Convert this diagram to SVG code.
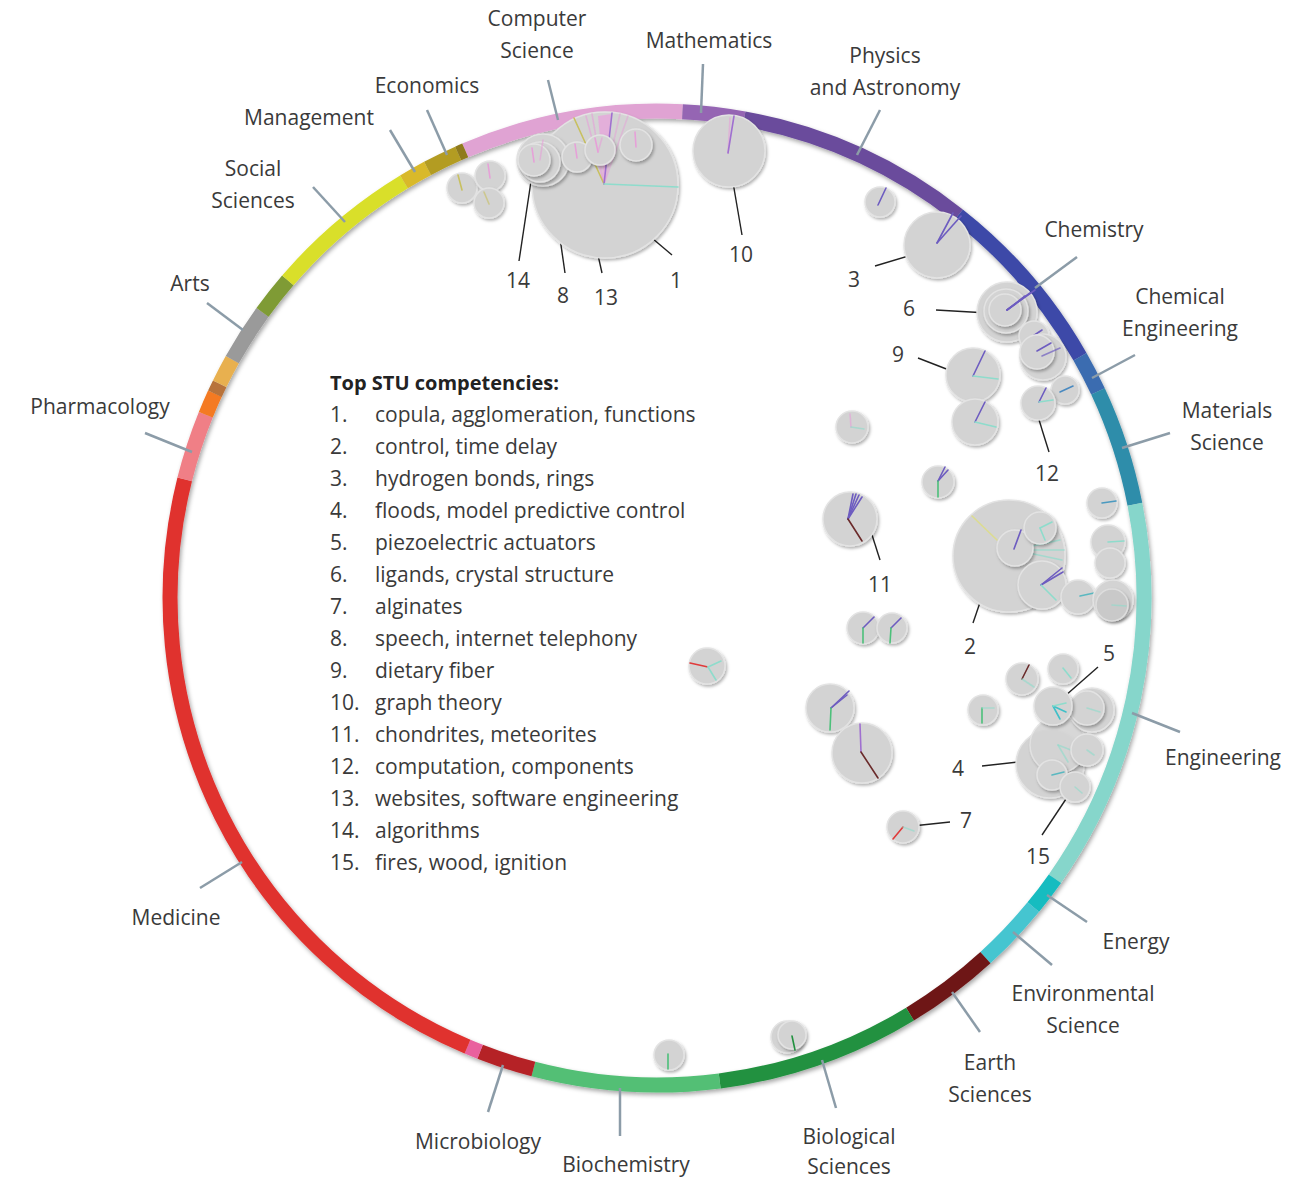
<svg xmlns="http://www.w3.org/2000/svg" width="1316" height="1181" viewBox="0 0 1316 1181">
<defs>
<filter id="rsh" x="-10%" y="-10%" width="120%" height="120%"><feDropShadow dx="1.5" dy="2.5" stdDeviation="2" flood-color="#000" flood-opacity="0.35"/></filter>
<filter id="bsh" x="-30%" y="-30%" width="160%" height="160%"><feDropShadow dx="1.5" dy="2" stdDeviation="1.5" flood-color="#000" flood-opacity="0.3"/></filter>
<style>
.seg{fill:none;stroke-width:15}
.lbl{font-family:"Open Sans","Liberation Sans",sans-serif;font-size:21px;fill:#3a3a3a;text-anchor:middle}
.num{font-family:"Open Sans","Liberation Sans",sans-serif;font-size:21px;fill:#3a3a3a;text-anchor:middle}
.leg{font-family:"Open Sans","Liberation Sans",sans-serif;font-size:21px;fill:#3a3a3a}
.legh{font-family:"Open Sans","Liberation Sans",sans-serif;font-size:20px;font-weight:bold;fill:#222}
.tick{stroke:#8c9ca8;stroke-width:2.5;fill:none}
.lead{stroke:#222;stroke-width:1.4;fill:none}
.b{fill:#d3d3d3;stroke:#e3e3e3;stroke-width:1.5;filter:url(#bsh)}
.bd{fill:#c9c9c9;stroke:#dedede;stroke-width:1.5;filter:url(#bsh)}
.sp{fill:none;stroke-width:1.6;stroke-linecap:round}
.v{stroke:#6d5cc0}
.vl{stroke:#a070d0}
.pk{stroke:#e6a0d8}
.tl{stroke:#8edccc}
.gr{stroke:#4cc07a}
.yl{stroke:#c8c060}
.rd{stroke:#e03a3a}
.br{stroke:#6a2a2a}
</style>
</defs>

<g id="ring" filter="url(#rsh)">
<path id="seg-cs" class="seg" stroke="#e0a3d3" d="M465.2 150.4 A487 487 0 0 1 682.5 111.7"/>
<path id="seg-math" class="seg" stroke="#9565b3" d="M682.5 111.7 A487 487 0 0 1 744.1 118.8"/>
<path id="seg-phys" class="seg" stroke="#6a4c9c" d="M744.1 118.8 A487 487 0 0 1 958.2 215.3"/>
<path id="seg-chem" class="seg" stroke="#3d4aa8" d="M958.2 215.3 A487 487 0 0 1 1080.0 356.7"/>
<path id="seg-cheng" class="seg" stroke="#3b6cb0" d="M1080.0 356.7 A487 487 0 0 1 1098.0 391.4"/>
<path id="seg-mat" class="seg" stroke="#2e8daa" d="M1098.0 391.4 A487 487 0 0 1 1134.9 504.3"/>
<path id="seg-eng" class="seg" stroke="#86d6cb" d="M1134.9 504.3 A487 487 0 0 1 1054.9 878.7"/>
<path id="seg-energy" class="seg" stroke="#16bcc0" d="M1054.9 878.7 A487 487 0 0 1 1033.3 907.1"/>
<path id="seg-env" class="seg" stroke="#45c5d0" d="M1033.3 907.1 A487 487 0 0 1 985.4 957.6"/>
<path id="seg-earth" class="seg" stroke="#6e1818" d="M985.4 957.6 A487 487 0 0 1 910.0 1014.1"/>
<path id="seg-bio" class="seg" stroke="#21913f" d="M910.0 1014.1 A487 487 0 0 1 719.7 1081.0"/>
<path id="seg-biochem" class="seg" stroke="#52bf75" d="M719.7 1081.0 A487 487 0 0 1 533.4 1069.1"/>
<path id="seg-micro" class="seg" stroke="#b52228" d="M533.4 1069.1 A487 487 0 0 1 480.1 1051.7"/>
<path id="seg-pink" class="seg" stroke="#e9609e" d="M480.1 1051.7 A487 487 0 0 1 467.5 1046.6"/>
<path id="seg-med" class="seg" stroke="#e0312f" d="M467.5 1046.6 A487 487 0 0 1 184.7 479.4"/>
<path id="seg-pharm" class="seg" stroke="#f07f86" d="M184.7 479.4 A487 487 0 0 1 205.8 414.8"/>
<path id="seg-or" class="seg" stroke="#f47a20" d="M205.8 414.8 A487 487 0 0 1 214.9 393.7"/>
<path id="seg-brn" class="seg" stroke="#b8733a" d="M214.9 393.7 A487 487 0 0 1 219.7 383.8"/>
<path id="seg-lor" class="seg" stroke="#e8b050" d="M219.7 383.8 A487 487 0 0 1 232.3 359.7"/>
<path id="seg-arts" class="seg" stroke="#9a9a9a" d="M232.3 359.7 A487 487 0 0 1 262.5 312.4"/>
<path id="seg-olive" class="seg" stroke="#7f9b35" d="M262.5 312.4 A487 487 0 0 1 287.8 280.4"/>
<path id="seg-soc" class="seg" stroke="#d9df2c" d="M287.8 280.4 A487 487 0 0 1 404.0 181.9"/>
<path id="seg-mgmt" class="seg" stroke="#d9b92a" d="M404.0 181.9 A487 487 0 0 1 427.6 168.4"/>
<path id="seg-econ" class="seg" stroke="#b39c22" d="M427.6 168.4 A487 487 0 0 1 458.2 153.5"/>
<path id="seg-econ2" class="seg" stroke="#8f7a1a" d="M458.2 153.5 A487 487 0 0 1 465.2 150.4"/>
</g>

<g id="connectors">
<line class="tick" x1="548" y1="80" x2="558" y2="120"/>
<line class="tick" x1="703" y1="64" x2="701" y2="113"/>
<line class="tick" x1="880" y1="110" x2="857" y2="155"/>
<line class="tick" x1="1077" y1="257" x2="1035" y2="288"/>
<line class="tick" x1="1135" y1="355" x2="1092" y2="378"/>
<line class="tick" x1="1170" y1="433" x2="1122" y2="448"/>
<line class="tick" x1="1180" y1="732" x2="1132" y2="713"/>
<line class="tick" x1="1087" y1="922" x2="1047" y2="895"/>
<line class="tick" x1="1052" y1="965" x2="1013" y2="932"/>
<line class="tick" x1="980" y1="1032" x2="952" y2="992"/>
<line class="tick" x1="836" y1="1108" x2="822" y2="1060"/>
<line class="tick" x1="620" y1="1136" x2="620" y2="1088"/>
<line class="tick" x1="488" y1="1112" x2="503" y2="1065"/>
<line class="tick" x1="200" y1="888" x2="242" y2="862"/>
<line class="tick" x1="145" y1="433" x2="192" y2="452"/>
<line class="tick" x1="207" y1="303" x2="243" y2="330"/>
<line class="tick" x1="313" y1="187" x2="345" y2="222"/>
<line class="tick" x1="390" y1="130" x2="415" y2="172"/>
<line class="tick" x1="427" y1="110" x2="447" y2="155"/>

<line class="lead" x1="607" y1="200" x2="672" y2="255"/>
<line class="lead" x1="730" y1="165" x2="742" y2="235"/>
<line class="lead" x1="533" y1="168" x2="519" y2="261"/>
<line class="lead" x1="546" y1="140" x2="565" y2="273"/>
<line class="lead" x1="577" y1="161" x2="602" y2="273"/>
<line class="lead" x1="875" y1="266" x2="925" y2="251"/>
<line class="lead" x1="936" y1="310" x2="988" y2="313"/>
<line class="lead" x1="918" y1="358" x2="967" y2="377"/>
<line class="lead" x1="1035" y1="407" x2="1049" y2="452"/>
<line class="lead" x1="866" y1="516" x2="880" y2="560"/>
<line class="lead" x1="988" y1="579" x2="973" y2="623"/>
<line class="lead" x1="1057" y1="703" x2="1098" y2="667"/>
<line class="lead" x1="982" y1="766" x2="1027" y2="761"/>
<line class="lead" x1="903" y1="827" x2="950" y2="822"/>
<line class="lead" x1="1042" y1="835" x2="1072" y2="790"/>
</g>

<g id="bubbles">
<g id="b-econ">
<circle class="b" cx="462" cy="188" r="15"/><line class="sp yl" x1="462" y1="190" x2="458" y2="175"/>
<circle class="b" cx="490" cy="176" r="15"/><line class="sp pk" x1="490" y1="178" x2="488" y2="164"/>
<circle class="b" cx="489" cy="203" r="15"/><line class="sp yl" x1="489" y1="204" x2="484" y2="192" opacity="0.6"/>
</g>
<g id="b1">
<circle class="b" cx="605" cy="185" r="73"/>
<polygon points="604,184 598,116 611,114" fill="#e7a6dc" opacity="0.8"/>
<line class="sp pk" x1="604" y1="184" x2="586" y2="116" opacity="0.6"/>
<line class="sp pk" x1="604" y1="184" x2="592" y2="114" opacity="0.6"/>
<line class="sp pk" x1="604" y1="184" x2="620" y2="114" opacity="0.5"/>
<line class="sp pk" x1="604" y1="184" x2="628" y2="116" opacity="0.5"/>
<line class="sp yl" x1="604" y1="184" x2="574" y2="118"/>
<line class="sp vl" x1="604" y1="184" x2="612" y2="113"/>
<line class="sp tl" x1="604" y1="184" x2="678" y2="187"/>
</g>
<g id="b14-8">
<circle class="b" cx="543" cy="160" r="26"/>
<circle class="b" cx="540" cy="162" r="20"/>
<circle class="b" cx="534" cy="160" r="16"/>
<line class="sp pk" x1="534" y1="162" x2="532" y2="148"/>
<line class="sp pk" x1="540" y1="160" x2="543" y2="140" opacity="0.6"/>
</g>
<g id="b13">
<circle class="b" cx="577" cy="157" r="15"/><line class="sp pk" x1="577" y1="158" x2="575" y2="144"/>
<circle class="b" cx="600" cy="150" r="15"/><line class="sp pk" x1="598" y1="152" x2="595" y2="138"/><line class="sp pk" x1="598" y1="152" x2="602" y2="138" opacity="0.6"/>
<circle class="b" cx="636" cy="145" r="16"/><line class="sp pk" x1="636" y1="147" x2="635" y2="132"/>
</g>
<g id="b10">
<circle class="b" cx="729" cy="151" r="36"/>
<line class="sp pk" x1="728" y1="153" x2="730" y2="118" opacity="0.6"/>
<line class="sp vl" x1="728" y1="153" x2="734" y2="116"/>
</g>
<g id="b-phys">
<circle class="b" cx="880" cy="202" r="15"/><line class="sp v" x1="878" y1="205" x2="886" y2="188"/>
</g>
<g id="b3">
<circle class="b" cx="937" cy="245" r="33"/>
<line class="sp v" x1="937" y1="243" x2="953" y2="213"/>
<line class="sp v" x1="937" y1="243" x2="961" y2="216"/>
</g>
<g id="b6">
<circle class="b" cx="1007" cy="312" r="30"/>
<circle class="b" cx="1006" cy="311" r="22"/>
<circle class="b" cx="1005" cy="310" r="16"/>
<line class="sp v" x1="1007" y1="310" x2="1035" y2="290"/>
<line class="sp v" x1="1007" y1="310" x2="1030" y2="293"/>
<line class="sp v" x1="1007" y1="310" x2="1025" y2="296"/>
</g>
<g id="b-chem">
<circle class="b" cx="1034" cy="336" r="15"/><line class="sp v" x1="1030" y1="338" x2="1042" y2="330"/>
<circle class="b" cx="1043" cy="357" r="23"/>
<circle class="b" cx="1037" cy="352" r="17"/><line class="sp v" x1="1037" y1="351" x2="1051" y2="343"/><line class="sp v" x1="1042" y1="356" x2="1060" y2="348" opacity="0.7"/>
<circle class="b" cx="1065" cy="390" r="14"/><line class="sp" stroke="#4a8ac0" x1="1060" y1="392" x2="1073" y2="386"/>
</g>
<g id="b12">
<circle class="b" cx="1038" cy="403" r="17"/>
<line class="sp v" x1="1039" y1="402" x2="1046" y2="388"/>
<line class="sp tl" x1="1039" y1="402" x2="1053" y2="400"/>
</g>
<g id="b9">
<circle class="b" cx="973" cy="375" r="27"/>
<line class="sp v" x1="973" y1="376" x2="985" y2="351"/>
<line class="sp tl" x1="973" y1="376" x2="998" y2="379"/>
<circle class="b" cx="975" cy="422" r="23"/>
<line class="sp v" x1="975" y1="422" x2="985" y2="402"/>
<line class="sp tl" x1="975" y1="422" x2="996" y2="427"/>
</g>
<g id="b-misc1">
<circle class="b" cx="852" cy="427" r="16"/>
<line class="sp pk" x1="851" y1="427" x2="850" y2="414" opacity="0.6"/>
<line class="sp tl" x1="851" y1="427" x2="864" y2="429" opacity="0.6"/>
<circle class="b" cx="938" cy="482" r="16"/>
<line class="sp v" x1="938" y1="481" x2="948" y2="470"/>
<line class="sp v" x1="938" y1="481" x2="945" y2="467"/>
<line class="sp gr" x1="938" y1="481" x2="938" y2="497"/>
</g>
<g id="b11">
<circle class="b" cx="850" cy="519" r="27"/>
<line class="sp v" x1="848" y1="519" x2="853" y2="494"/>
<line class="sp v" x1="848" y1="519" x2="856" y2="494"/>
<line class="sp v" x1="848" y1="519" x2="859" y2="495"/>
<line class="sp v" x1="848" y1="519" x2="862" y2="497"/>
<line class="sp br" x1="848" y1="519" x2="862" y2="541"/>
</g>
<g id="b2">
<circle class="b" cx="1009" cy="556" r="56"/>
<line class="sp" stroke="#dcdc90" x1="997" y1="540" x2="972" y2="516"/>
<line class="sp tl" x1="1015" y1="550" x2="1064" y2="550" stroke-width="3" opacity="0.7"/>
<line class="sp tl" x1="1015" y1="550" x2="1062" y2="560" stroke-width="3" opacity="0.7"/>
<line class="sp tl" x1="1015" y1="550" x2="1060" y2="540" opacity="0.7"/>
<circle class="b" cx="1015" cy="548" r="18"/>
<line class="sp v" x1="1014" y1="549" x2="1021" y2="530"/>
<circle class="b" cx="1040" cy="528" r="16"/>
<line class="sp tl" x1="1040" y1="528" x2="1052" y2="522"/>
<line class="sp tl" x1="1040" y1="528" x2="1045" y2="540"/>
<circle class="b" cx="1042" cy="585" r="24"/>
<line class="sp v" x1="1041" y1="585" x2="1063" y2="572"/>
<line class="sp v" x1="1041" y1="585" x2="1062" y2="568"/>
<line class="sp tl" x1="1041" y1="585" x2="1056" y2="600"/>
</g>
<g id="b-eng1">
<circle class="b" cx="1078" cy="597" r="17"/><line class="sp" stroke="#5ab8c0" x1="1080" y1="596" x2="1094" y2="593"/>
<circle class="b" cx="1102" cy="503" r="15"/><line class="sp" stroke="#4a9ac0" x1="1102" y1="503" x2="1116" y2="501"/>
<circle class="b" cx="1108" cy="542" r="17"/><line class="sp tl" x1="1108" y1="542" x2="1124" y2="541" stroke-width="2.5"/>
<circle class="b" cx="1110" cy="563" r="15"/>
<circle class="b" cx="1113" cy="600" r="20"/>
<circle class="bd" cx="1112" cy="605" r="16"/><line class="sp tl" x1="1112" y1="605" x2="1126" y2="606" opacity="0.6"/>
</g>
<g id="b-pair">
<circle class="b" cx="863" cy="628" r="16"/>
<line class="sp v" x1="863" y1="628" x2="874" y2="617"/>
<line class="sp gr" x1="863" y1="628" x2="863" y2="643"/>
<circle class="b" cx="892" cy="628" r="15"/>
<line class="sp v" x1="891" y1="628" x2="901" y2="618"/>
<line class="sp gr" x1="891" y1="628" x2="890" y2="643"/>
</g>
<g id="b-mid">
<circle class="b" cx="707" cy="666" r="18"/>
<line class="sp rd" x1="708" y1="667" x2="690" y2="663"/>
<line class="sp tl" x1="708" y1="667" x2="721" y2="661"/>
<line class="sp tl" x1="708" y1="667" x2="716" y2="680"/>
</g>
<g id="b-left2">
<circle class="b" cx="830" cy="708" r="24"/>
<line class="sp v" x1="831" y1="708" x2="849" y2="691"/>
<line class="sp v" x1="831" y1="708" x2="847" y2="695"/>
<line class="sp gr" x1="831" y1="708" x2="830" y2="730"/>
<circle class="b" cx="862" cy="753" r="30"/>
<line class="sp vl" x1="861" y1="752" x2="860" y2="724"/>
<line class="sp br" x1="861" y1="752" x2="878" y2="778"/>
</g>
<g id="b7">
<circle class="b" cx="903" cy="827" r="16"/>
<line class="sp rd" x1="903" y1="827" x2="893" y2="839"/>
<line class="sp tl" x1="903" y1="827" x2="914" y2="831" opacity="0.6"/>
</g>
<g id="b-eng2">
<circle class="b" cx="983" cy="710" r="15"/><line class="sp gr" x1="982" y1="708" x2="982" y2="723"/><line class="sp tl" x1="982" y1="708" x2="994" y2="708" opacity="0.6"/>
<circle class="b" cx="1022" cy="679" r="16"/><line class="sp br" x1="1022" y1="679" x2="1029" y2="665"/><line class="sp tl" x1="1022" y1="679" x2="1034" y2="687" opacity="0.6"/>
<circle class="b" cx="1063" cy="669" r="15"/><line class="sp tl" x1="1063" y1="668" x2="1071" y2="678"/>
<circle class="b" cx="1050" cy="764" r="34"/>
<circle class="b" cx="1058" cy="745" r="28" opacity="0.9"/>
<line class="sp tl" x1="1058" y1="745" x2="1068" y2="762" opacity="0.6"/>
<line class="sp tl" x1="1058" y1="745" x2="1076" y2="752" opacity="0.6"/>
<circle class="b" cx="1092" cy="710" r="22"/>
<circle class="b" cx="1087" cy="708" r="17"/><line class="sp tl" x1="1087" y1="708" x2="1100" y2="712" opacity="0.6"/>
<circle class="b" cx="1053" cy="706" r="19"/>
<line class="sp" stroke="#40c0c8" x1="1053" y1="706" x2="1066" y2="712" stroke-width="2"/>
<line class="sp" stroke="#40c0c8" x1="1053" y1="706" x2="1060" y2="719" stroke-width="2"/>
<line class="sp tl" x1="1053" y1="706" x2="1066" y2="703"/>
<circle class="b" cx="1087" cy="750" r="16"/><line class="sp tl" x1="1087" y1="750" x2="1094" y2="755" opacity="0.6"/>
<circle class="b" cx="1052" cy="775" r="15"/><line class="sp" stroke="#5ab8c0" x1="1052" y1="775" x2="1064" y2="772"/>
<circle class="b" cx="1075" cy="787" r="15"/><line class="sp tl" x1="1075" y1="787" x2="1082" y2="793" opacity="0.6"/>
</g>
<g id="b-bottom">
<circle class="b" cx="669" cy="1055" r="15"/><line class="sp gr" x1="668" y1="1054" x2="668" y2="1069"/>
<circle class="b" cx="787" cy="1037" r="16"/>
<circle class="b" cx="792" cy="1035" r="14"/>
<line class="sp" stroke="#21913f" x1="792" y1="1036" x2="795" y2="1050"/>
</g>
</g>

<g id="labels">
<text class="lbl" x="537" y="26">Computer</text>
<text class="lbl" x="537" y="58">Science</text>
<text class="lbl" x="709" y="48">Mathematics</text>
<text class="lbl" x="885" y="63">Physics</text>
<text class="lbl" x="885" y="95">and Astronomy</text>
<text class="lbl" x="1094" y="237">Chemistry</text>
<text class="lbl" x="1180" y="304">Chemical</text>
<text class="lbl" x="1180" y="336">Engineering</text>
<text class="lbl" x="1227" y="418">Materials</text>
<text class="lbl" x="1227" y="450">Science</text>
<text class="lbl" x="1223" y="765">Engineering</text>
<text class="lbl" x="1136" y="949">Energy</text>
<text class="lbl" x="1083" y="1001">Environmental</text>
<text class="lbl" x="1083" y="1033">Science</text>
<text class="lbl" x="990" y="1070">Earth</text>
<text class="lbl" x="990" y="1102">Sciences</text>
<text class="lbl" x="849" y="1144">Biological</text>
<text class="lbl" x="849" y="1174">Sciences</text>
<text class="lbl" x="626" y="1172">Biochemistry</text>
<text class="lbl" x="478" y="1149">Microbiology</text>
<text class="lbl" x="176" y="925">Medicine</text>
<text class="lbl" x="100" y="414">Pharmacology</text>
<text class="lbl" x="190" y="291">Arts</text>
<text class="lbl" x="253" y="176">Social</text>
<text class="lbl" x="253" y="208">Sciences</text>
<text class="lbl" x="309" y="125">Management</text>
<text class="lbl" x="427" y="93">Economics</text>
</g>

<g id="numbers">
<text class="num" x="676" y="288">1</text>
<text class="num" x="741" y="262">10</text>
<text class="num" x="518" y="288">14</text>
<text class="num" x="563" y="303">8</text>
<text class="num" x="606" y="305">13</text>
<text class="num" x="854" y="287">3</text>
<text class="num" x="909" y="316">6</text>
<text class="num" x="898" y="362">9</text>
<text class="num" x="1047" y="481">12</text>
<text class="num" x="880" y="592">11</text>
<text class="num" x="970" y="654">2</text>
<text class="num" x="1109" y="661">5</text>
<text class="num" x="958" y="776">4</text>
<text class="num" x="966" y="828">7</text>
<text class="num" x="1038" y="864">15</text>
</g>

<g id="legend">
<text class="legh" x="330" y="390">Top STU competencies:</text>
<text class="leg" x="330" y="422">1.</text><text class="leg" x="375" y="422">copula, agglomeration, functions</text>
<text class="leg" x="330" y="454">2.</text><text class="leg" x="375" y="454">control, time delay</text>
<text class="leg" x="330" y="486">3.</text><text class="leg" x="375" y="486">hydrogen bonds, rings</text>
<text class="leg" x="330" y="518">4.</text><text class="leg" x="375" y="518">floods, model predictive control</text>
<text class="leg" x="330" y="550">5.</text><text class="leg" x="375" y="550">piezoelectric actuators</text>
<text class="leg" x="330" y="582">6.</text><text class="leg" x="375" y="582">ligands, crystal structure</text>
<text class="leg" x="330" y="614">7.</text><text class="leg" x="375" y="614">alginates</text>
<text class="leg" x="330" y="646">8.</text><text class="leg" x="375" y="646">speech, internet telephony</text>
<text class="leg" x="330" y="678">9.</text><text class="leg" x="375" y="678">dietary fiber</text>
<text class="leg" x="330" y="710">10.</text><text class="leg" x="375" y="710">graph theory</text>
<text class="leg" x="330" y="742">11.</text><text class="leg" x="375" y="742">chondrites, meteorites</text>
<text class="leg" x="330" y="774">12.</text><text class="leg" x="375" y="774">computation, components</text>
<text class="leg" x="330" y="806">13.</text><text class="leg" x="375" y="806">websites, software engineering</text>
<text class="leg" x="330" y="838">14.</text><text class="leg" x="375" y="838">algorithms</text>
<text class="leg" x="330" y="870">15.</text><text class="leg" x="375" y="870">fires, wood, ignition</text>
</g>
</svg>
